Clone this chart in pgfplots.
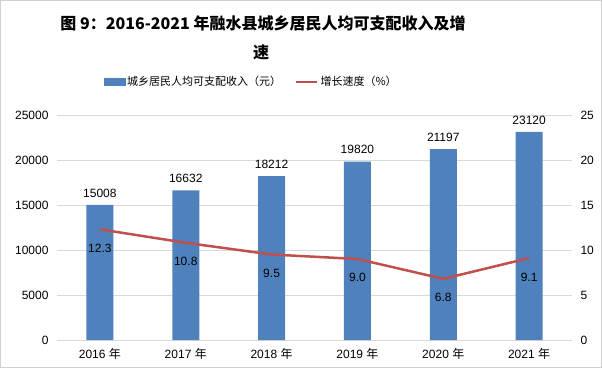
\documentclass[border=0pt]{standalone}
\usepackage{pgfplots}
\pgfplotsset{compat=1.18}
\usepackage{fontspec}
\setmainfont{Liberation Sans}
\newfontfamily\cjk{Noto Sans CJK SC}
\definecolor{barblue}{HTML}{4F81BD}
\definecolor{linered}{HTML}{C0504D}
\definecolor{gridgray}{HTML}{D9D9D9}
\definecolor{framegray}{HTML}{D0D0D0}
\begin{document}
\begin{tikzpicture}[x=1bp,y=1bp]
\path[use as bounding box] (0,0) rectangle (602,368);
\fill[white] (0,0) rectangle (602,368);
\draw[framegray, line width=1bp] (0.5,0.5) rectangle (601.5,367.5);
\node[font=\cjk\bfseries\fontsize{16bp}{19bp}\selectfont] at (263,345) {图 9：2016-2021 年融水县城乡居民人均可支配收入及增};
\node[font=\cjk\bfseries\fontsize{16bp}{19bp}\selectfont] at (261,316) {速};
\begin{axis}[
  at={(57bp,28bp)}, anchor=south west, scale only axis,
  width=515bp, height=225bp,
  xmin=-0.5, xmax=5.5, ymin=0, ymax=25000,
  xtick={0,1,2,3,4,5},
  xticklabels={2016 {\cjk 年},2017 {\cjk 年},2018 {\cjk 年},2019 {\cjk 年},2020 {\cjk 年},2021 {\cjk 年}},
  ytick={0,5000,10000,15000,20000,25000},
  scaled y ticks=false,
  ymajorgrids, grid style={gridgray, line width=0.8bp},
  axis line style={draw=none}, tick style={draw=none},
  /pgf/number format/1000 sep={},
  /pgf/number format/assume math mode=true,
  ticklabel style={font=\fontsize{12bp}{14bp}\selectfont},
  yticklabel style={xshift=-5bp},
  xticklabel style={yshift=-5bp},
  legend style={at={(0.377,1.147)}, anchor=center, draw=none, fill=none,
    legend columns=2, font=\cjk\fontsize{11bp}{13bp}\selectfont,
    /tikz/every even column/.append style={column sep=12bp}},
]
\addlegendimage{legend image code/.code={\fill[barblue] (0bp,-3.5bp) rectangle (21bp,3.5bp);}}
\addlegendentry{城乡居民人均可支配收入（元）}
\addlegendimage{legend image code/.code={\draw[linered, line width=2.5bp] (0bp,0bp) -- (21bp,0bp);}}
\addlegendentry{增长速度（\%）}
\addplot[ybar, bar width=27bp, fill=barblue, draw=none, forget plot,
  point meta=explicit symbolic, nodes near coords,
  every node near coord/.append style={font=\fontsize{12bp}{14bp}\selectfont, anchor=south, yshift=4bp}]
  coordinates {(0,15008)[15008] (1,16632)[16632] (2,18212)[18212] (3,19820)[19820] (4,21197)[21197] (5,23120)[23120]};
\end{axis}
\begin{axis}[
  at={(57bp,28bp)}, anchor=south west, scale only axis,
  width=515bp, height=225bp,
  xmin=-0.5, xmax=5.5, ymin=0, ymax=25,
  xtick=\empty,
  ytick={0,5,10,15,20,25},
  yticklabel pos=right,
  axis line style={draw=none}, tick style={draw=none},
  /pgf/number format/assume math mode=true,
  ticklabel style={font=\fontsize{12bp}{14bp}\selectfont},
  yticklabel style={xshift=5bp},
]
\addplot[linered, line width=2.5bp, mark=none,
  point meta=explicit symbolic, nodes near coords,
  every node near coord/.append style={font=\fontsize{12bp}{14bp}\selectfont, text=black, anchor=north, yshift=-10bp}]
  coordinates {(0,12.3)[12.3] (1,10.8)[10.8] (2,9.5)[9.5] (3,9.0)[9.0] (4,6.8)[6.8] (5,9.1)[9.1]};
\end{axis}
\end{tikzpicture}
\end{document}
